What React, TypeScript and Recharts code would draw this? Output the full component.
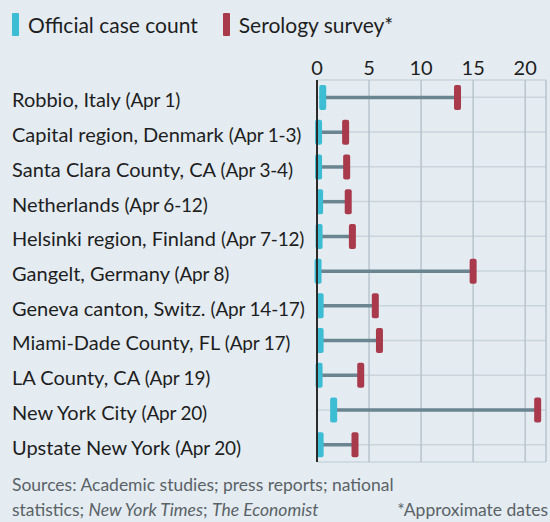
import React from 'react';
import {
  ComposedChart,
  Bar,
  XAxis,
  YAxis,
  CartesianGrid
} from 'recharts';

const places = [
  'Robbio, Italy',
  'Capital region, Denmark',
  'Santa Clara County, CA',
  'Netherlands',
  'Helsinki region, Finland',
  'Gangelt, Germany',
  'Geneva canton, Switz.',
  'Miami-Dade County, FL',
  'LA County, CA',
  'New York City',
  'Upstate New York'
];
const dates = [
  'Apr 1',
  'Apr 1-3',
  'Apr 3-4',
  'Apr 6-12',
  'Apr 7-12',
  'Apr 8',
  'Apr 14-17',
  'Apr 17',
  'Apr 19',
  'Apr 20',
  'Apr 20'
];
// % of population infected
const official = [0.55, 0.15, 0.15, 0.25, 0.2, 0.1, 0.3, 0.3, 0.2, 1.6, 0.3];
const serology = [13.5, 2.75, 2.85, 3.0, 3.4, 15.0, 5.6, 6.0, 4.2, 21.2, 3.65];
const xTicks = [0, 5, 10, 15, 20];

const CYAN = '#3dbdd3';
const RED = '#a83a4c';
const BG = '#e4ecf2';
const FONT = 'Lato, "Open Sans", sans-serif';

const data = places.map((place, i) => ({
  place,
  date: dates[i],
  range: [official[i], serology[i]]
}));

const DumbbellShape = (props: any) => {
  const { x, y, width, height } = props;
  const cy = y + height / 2;
  return (
    <g>
      <line x1={x} x2={x + width} y1={cy} y2={cy} stroke="#6a8590" strokeWidth={3.5} />
      <rect x={x - 3.5} y={cy - 12.5} width={7} height={25} rx={2} fill={CYAN} />
      <rect x={x + width - 3.5} y={cy - 12.5} width={7} height={25} rx={2} fill={RED} />
    </g>
  );
};

const PlaceTick = (props: any) => {
  const { y, payload, index } = props;
  return (
    <text x={12} y={y} dy={10} fill="#1e1e1e" fontFamily={FONT}>
      <tspan fontSize={20}>{payload.value} </tspan>
      <tspan fontSize={19} letterSpacing={-0.2}>({dates[index]})</tspan>
    </text>
  );
};

const Swatch = ({ color }: { color: string }) => (
  <span
    style={{
      display: 'inline-block',
      width: 7,
      height: 23,
      background: color,
      borderRadius: 1,
      marginRight: 9,
      verticalAlign: 'middle'
    }}
  />
);

const App = () => (
  <div
    style={{
      position: 'absolute',
      left: 0,
      top: 0,
      width: 550,
      height: 522,
      background: BG,
      fontFamily: FONT,
      color: '#1e1e1e'
    }}
  >
    <div style={{ position: 'absolute', left: 12, top: 12, fontSize: 21, display: 'flex', alignItems: 'center' }}>
      <Swatch color={CYAN} />
      <span style={{ marginRight: 25 }}>Official case count</span>
      <Swatch color={RED} />
      <span>Serology survey*</span>
    </div>
    <ComposedChart
      width={550}
      height={522}
      data={data}
      layout="vertical"
      margin={{ top: 50, right: 4, bottom: 60, left: 0 }}
      barCategoryGap={0}
    >
      <CartesianGrid horizontal={true} vertical={false} stroke="#c9d4db" strokeWidth={1.5} />
      <CartesianGrid horizontal={false} vertical={true} stroke="#b7c4cc" strokeWidth={1.5} />
      <XAxis
        type="number"
        orientation="top"
        domain={[0, 22]}
        ticks={xTicks}
        height={30}
        axisLine={false}
        tickLine={false}
        tickSize={0}
        tickMargin={5}
        tick={{ fontSize: 20, fill: '#1e1e1e', fontFamily: FONT }}
      />
      <YAxis
        type="category"
        dataKey="place"
        width={317}
        axisLine={{ stroke: '#2a2a2a', strokeWidth: 2 }}
        tickLine={false}
        tick={<PlaceTick />}
        interval={0}
      />
      <Bar dataKey="range" shape={<DumbbellShape />} isAnimationActive={false} />
    </ComposedChart>
    <div
      style={{
        position: 'absolute',
        left: 12,
        top: 472,
        width: 536,
        fontSize: 17.5,
        lineHeight: '25px',
        color: '#5a6266'
      }}
    >
      <div>Sources: Academic studies; press reports; national</div>
      <div style={{ display: 'flex', justifyContent: 'space-between' }}>
        <span>
          statistics; <i>New York Times</i>; <i>The Economist</i>
        </span>
        <span>*Approximate dates</span>
      </div>
    </div>
  </div>
);

export default App;
